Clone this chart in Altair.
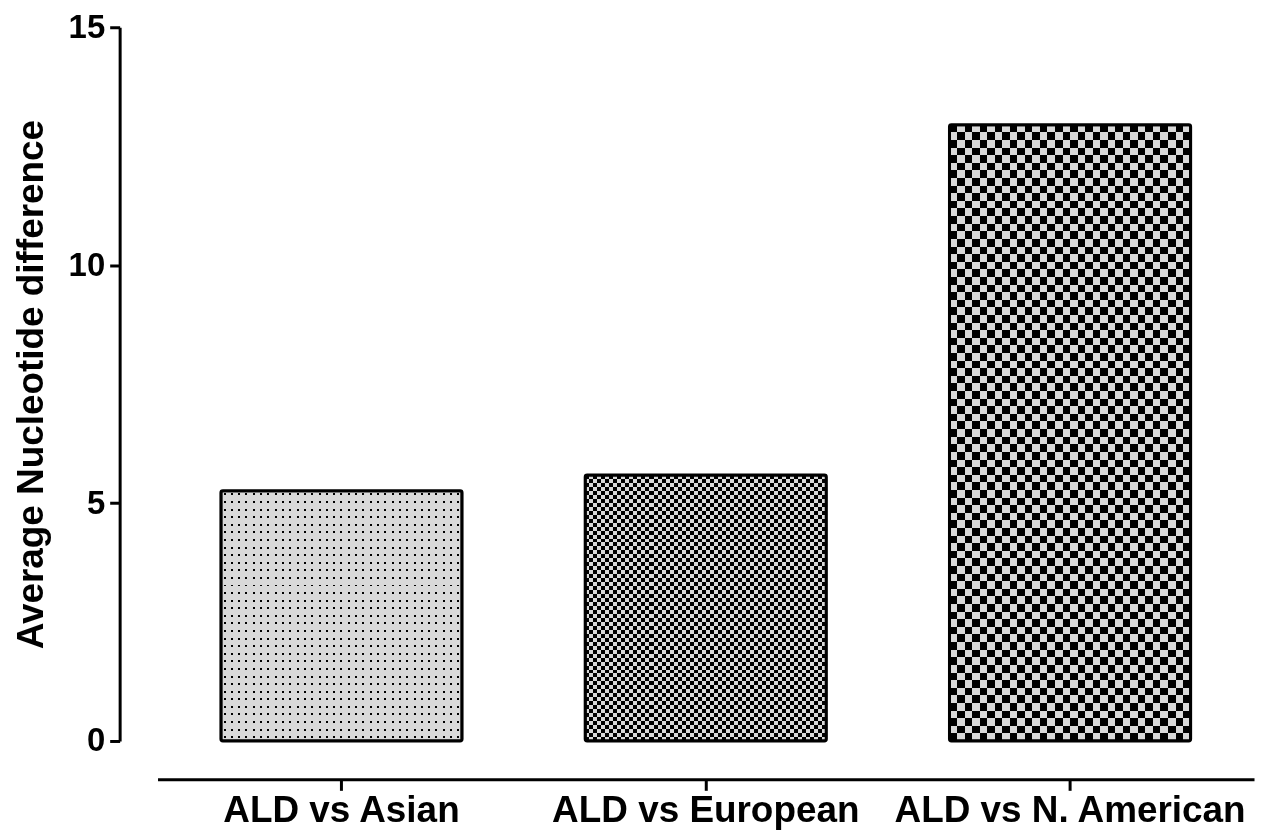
import altair as alt
import pandas as pd

# ---- data ----
categories = ["ALD vs Asian", "ALD vs European", "ALD vs N. American"]
values = [5.26, 5.59, 12.95]
y_ticks = [0, 5, 10, 15]
y_title = "Average Nucleotide difference"

df = pd.DataFrame({"category": categories, "value": values})

# ---- layout ----
W, H = 1100, 716
YMAX = 15
PAD_IN, PAD_OUT = 0.338, 0.174
step = W / (len(categories) - PAD_IN + 2 * PAD_OUT)
band = step * (1 - PAD_IN)

LIGHT = "#d9d9d9"
BLACK = "#000000"
FONT = "Liberation Sans"


def checker_stops(length_px, cell_px, c0, c1):
    n = max(1, round(length_px / cell_px))
    stops = []
    for i in range(n):
        c = c0 if i % 2 == 0 else c1
        stops.append(alt.GradientStop(offset=round(i / n, 6), color=c))
        stops.append(alt.GradientStop(offset=round((i + 1) / n, 6), color=c))
    return stops


def line_stops(length_px, period_px, line_px, bg, fg):
    n = max(1, round(length_px / period_px))
    f = line_px / (length_px / n)
    stops = [alt.GradientStop(offset=0, color=bg)]
    for i in range(n):
        b = round((i + 0.5 - f / 2) / n, 6)
        c = round((i + 0.5 + f / 2) / n, 6)
        stops += [
            alt.GradientStop(offset=b, color=bg),
            alt.GradientStop(offset=b, color=fg),
            alt.GradientStop(offset=c, color=fg),
            alt.GradientStop(offset=c, color=bg),
        ]
    stops.append(alt.GradientStop(offset=1, color=bg))
    return stops


def grad(stops, vertical):
    if vertical:  # stripes stacked along y
        return alt.Gradient(gradient="linear", stops=stops, x1=0, y1=0, x2=0, y2=1)
    return alt.Gradient(gradient="linear", stops=stops, x1=0, y1=0, x2=1, y2=0)


base = alt.Chart(df).encode(
    x=alt.X(
        "category:N",
        sort=categories,
        scale=alt.Scale(paddingInner=PAD_IN, paddingOuter=PAD_OUT),
        axis=alt.Axis(
            title=None,
            labelAngle=0,
            offset=38.5,
            tickSize=11,
            labelBaseline="alphabetic",
            labelPadding=31,
            labelFontSize=37,
            labelLimit=0,
        ),
    ),
    y=alt.Y(
        "value:Q",
        scale=alt.Scale(domain=[0, YMAX], nice=False),
        axis=alt.Axis(
            title=y_title,
            values=y_ticks,
            offset=38,
            tickSize=10,
            labelPadding=5,
            labelFontSize=33,
            titleFontSize=37,
            titlePadding=18,
        ),
    ),
)

layers = []
patterns = [
    ("dots", 7.6, 7.4),
    ("checker", 4.0, 4.0),
    ("checker", 7.6, 7.6),
]
for cat, val, (kind, cy, cx) in zip(categories, values, patterns):
    h_px = val / YMAX * H
    sub = base.transform_filter(alt.datum.category == cat)
    if kind == "dots":
        g1 = grad(line_stops(h_px, cy, 2.0, LIGHT, BLACK), True)
        g2 = grad(line_stops(band, cx, 2.0, LIGHT, BLACK), False)
        layers.append(sub.mark_bar(fill=g1, strokeWidth=0))
        layers.append(sub.mark_bar(fill=g2, strokeWidth=0, blend="lighten"))
    else:
        g1 = grad(checker_stops(h_px, cy, BLACK, LIGHT), True)
        g2 = grad(checker_stops(band, cx, BLACK, LIGHT), False)
        layers.append(sub.mark_bar(fill=g1, strokeWidth=0))
        layers.append(sub.mark_bar(fill=g2, strokeWidth=0, blend="difference"))

outline = base.mark_bar(
    fillOpacity=0, stroke=BLACK, strokeWidth=3, cornerRadius=2
)
layers.append(outline)

chart = (
    alt.layer(*layers)
    .properties(
        width=W,
        height=H,
        autosize=alt.AutoSizeParams(type="none"),
        padding={"left": 150, "top": 18, "right": 5, "bottom": 89},
        background="white",
    )
    .configure_view(stroke=None)
    .configure_axis(
        grid=False,
        domainColor=BLACK,
        domainWidth=3,
        tickColor=BLACK,
        tickWidth=3,
        labelColor=BLACK,
        labelFont=FONT,
        labelFontWeight="bold",
        titleColor=BLACK,
        titleFont=FONT,
        titleFontWeight="bold",
    )
)

chart.save("out.html", embed_options={"renderer": "svg", "actions": False})
